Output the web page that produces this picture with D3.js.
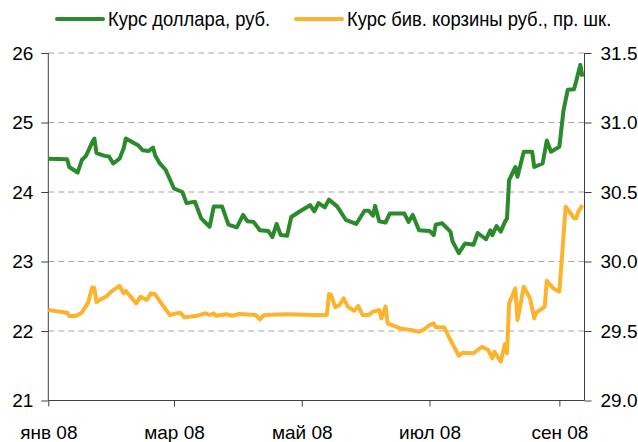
<!DOCTYPE html>
<html>
<head>
<meta charset="utf-8">
<script src="https://cdn.jsdelivr.net/npm/d3@7"></script>
<style>
  body { margin: 0; background: #fff; }
  svg text { font-family: Arial, "Liberation Sans", sans-serif; fill: #000; }
</style>
</head>
<body>
<div id="chart"></div>
<script>
// курс доллара (левая шкала)
var usdDates = ["2008-01-01","2008-01-10","2008-01-11","2008-01-15","2008-01-17","2008-01-19","2008-01-22","2008-01-23","2008-01-24","2008-01-28",
  "2008-01-30","2008-02-01","2008-02-04","2008-02-06","2008-02-07","2008-02-10","2008-02-13","2008-02-15","2008-02-18","2008-02-20",
  "2008-02-21","2008-02-23","2008-02-26","2008-03-01","2008-03-05","2008-03-07","2008-03-11","2008-03-14","2008-03-18","2008-03-20",
  "2008-03-24","2008-03-27","2008-03-31","2008-04-03","2008-04-05","2008-04-08","2008-04-11","2008-04-15","2008-04-17","2008-04-19",
  "2008-04-21","2008-04-24","2008-04-26","2008-04-30","2008-05-05","2008-05-07","2008-05-09","2008-05-12","2008-05-14","2008-05-18",
  "2008-05-22","2008-05-27","2008-05-31","2008-06-02","2008-06-04","2008-06-05","2008-06-07","2008-06-10","2008-06-12","2008-06-19",
  "2008-06-21","2008-06-23","2008-06-26","2008-07-01","2008-07-03","2008-07-04","2008-07-07","2008-07-11","2008-07-12","2008-07-15",
  "2008-07-18","2008-07-22","2008-07-24","2008-07-28","2008-07-30","2008-07-31","2008-08-02","2008-08-04","2008-08-06","2008-08-07",
  "2008-08-08","2008-08-11","2008-08-12","2008-08-15","2008-08-19","2008-08-20","2008-08-24","2008-08-26","2008-08-28","2008-09-01",
  "2008-09-03","2008-09-05","2008-09-08","2008-09-09","2008-09-11","2008-09-12"];
var usdValues = [24.48,24.47,24.36,24.28,24.46,24.52,24.72,24.77,24.56,24.52,
  24.51,24.41,24.48,24.63,24.77,24.72,24.67,24.60,24.59,24.64,
  24.53,24.42,24.32,24.05,24.00,23.84,23.86,23.62,23.50,23.79,
  23.79,23.53,23.49,23.67,23.58,23.57,23.45,23.44,23.35,23.54,
  23.38,23.37,23.64,23.72,23.81,23.72,23.84,23.78,23.89,23.79,
  23.60,23.54,23.73,23.73,23.66,23.80,23.58,23.56,23.69,23.69,
  23.57,23.67,23.45,23.44,23.38,23.53,23.55,23.43,23.29,23.12,
  23.26,23.24,23.41,23.32,23.45,23.38,23.51,23.43,23.57,23.62,
  24.17,24.36,24.22,24.58,24.58,24.36,24.41,24.74,24.58,24.65,
  25.18,25.47,25.48,25.59,25.83,25.66];

// курс бивалютной корзины (правая шкала)
var basketDates = ["2008-01-01","2008-01-10","2008-01-11","2008-01-14","2008-01-17","2008-01-20","2008-01-22","2008-01-23","2008-01-24","2008-01-26",
  "2008-01-29","2008-01-31","2008-02-04","2008-02-06","2008-02-07","2008-02-12","2008-02-14","2008-02-17","2008-02-19","2008-02-21",
  "2008-02-24","2008-02-28","2008-03-04","2008-03-06","2008-03-12","2008-03-16","2008-03-18","2008-03-20","2008-03-21","2008-03-26",
  "2008-03-29","2008-04-01","2008-04-09","2008-04-11","2008-04-13","2008-04-24","2008-05-07","2008-05-13","2008-05-14","2008-05-15",
  "2008-05-17","2008-05-19","2008-05-21","2008-05-23","2008-05-26","2008-05-28","2008-05-30","2008-06-02","2008-06-04","2008-06-07",
  "2008-06-08","2008-06-10","2008-06-11","2008-06-13","2008-06-17","2008-06-22","2008-06-26","2008-06-28","2008-07-01","2008-07-03",
  "2008-07-04","2008-07-08","2008-07-11","2008-07-15","2008-07-17","2008-07-22","2008-07-26","2008-07-29","2008-07-31","2008-08-01",
  "2008-08-04","2008-08-06","2008-08-07","2008-08-08","2008-08-11","2008-08-12","2008-08-15","2008-08-18","2008-08-20","2008-08-21",
  "2008-08-25","2008-08-26","2008-08-29","2008-09-01","2008-09-04","2008-09-08","2008-09-09","2008-09-10","2008-09-12"];
var basketValues = [29.651,29.632,29.608,29.608,29.632,29.704,29.814,29.807,29.707,29.728,
  29.752,29.783,29.824,29.771,29.788,29.699,29.747,29.723,29.771,29.764,
  29.699,29.615,29.632,29.598,29.610,29.627,29.615,29.627,29.610,29.620,
  29.610,29.622,29.615,29.584,29.615,29.620,29.615,29.615,29.766,29.759,
  29.670,29.687,29.735,29.675,29.646,29.680,29.615,29.615,29.639,29.651,
  29.591,29.675,29.555,29.543,29.519,29.507,29.495,29.507,29.543,29.555,
  29.527,29.527,29.435,29.322,29.344,29.340,29.387,29.363,29.304,29.351,
  29.279,29.406,29.340,29.699,29.807,29.579,29.819,29.735,29.591,29.632,
  29.675,29.862,29.807,29.783,30.394,30.311,30.311,30.358,30.406];

var leftTicks = [21, 22, 23, 24, 25, 26];
var rightTicks = [29.0, 29.5, 30.0, 30.5, 31.0, 31.5];
var monthTicks = ["2008-01-01","2008-03-01","2008-05-01","2008-07-01","2008-09-01"];
var monthLabels = ["янв 08","мар 08","май 08","июл 08","сен 08"];
var seriesNames = ["Курс доллара, руб.", "Курс бив. корзины руб., пр. шк."];
var seriesColors = ["#2b8a2b", "#fdb42c"];

var width = 638, height = 442,
    plotLeft = 48.3, plotRight = 584.5, plotTop = 53, plotBottom = 400.5;

var parseDate = d3.timeParse("%Y-%m-%d");

var svg = d3.select("#chart").append("svg")
    .attr("width", width)
    .attr("height", height);

var x = d3.scaleTime()
    .domain([parseDate("2008-01-01"), parseDate("2008-09-13")])
    .range([plotLeft, plotRight]);

var yLeft = d3.scaleLinear()
    .domain([21, 26])
    .range([plotBottom, plotTop]);

var yRight = d3.scaleLinear()
    .domain([29, 31.5])
    .range([plotBottom, plotTop]);

// dashed grid
svg.append("g").selectAll("line")
    .data(leftTicks.slice(1))
    .enter().append("line")
    .attr("x1", plotLeft)
    .attr("x2", plotRight)
    .attr("y1", function(d) { return yLeft(d); })
    .attr("y2", function(d) { return yLeft(d); })
    .style("stroke", "#a6a6a6")
    .style("stroke-width", "1px")
    .style("stroke-dasharray", "6,4");

var yAxisLeft = d3.axisLeft(yLeft)
    .tickValues(leftTicks)
    .tickFormat(d3.format("d"))
    .tickSize(7)
    .tickPadding(8);

var yAxisRight = d3.axisRight(yRight)
    .tickValues(rightTicks)
    .tickFormat(d3.format(".1f"))
    .tickSize(7)
    .tickPadding(9);

var xAxis = d3.axisBottom(x)
    .tickValues(monthTicks.map(parseDate))
    .tickFormat(function(d, i) { return monthLabels[i]; })
    .tickSize(6)
    .tickPadding(19);

function styleAxis(g) {
  g.select(".domain").remove();
  g.selectAll(".tick line").style("stroke", "#404040");
  g.selectAll(".tick text")
    .style("font-size", "19px")
    .style("font-family", "Arial, 'Liberation Sans', sans-serif")
    .attr("fill", "#000");
}

svg.append("g")
    .attr("transform", "translate(" + plotLeft + ",0)")
    .call(yAxisLeft)
    .call(styleAxis);

svg.append("g")
    .attr("transform", "translate(" + plotRight + ",0)")
    .call(yAxisRight)
    .call(styleAxis);

svg.append("g")
    .attr("transform", "translate(0," + plotBottom + ")")
    .call(xAxis)
    .call(styleAxis);

// axis lines
svg.append("line")
    .attr("x1", plotLeft).attr("x2", plotLeft)
    .attr("y1", plotTop).attr("y2", plotBottom)
    .style("stroke", "#404040");
svg.append("line")
    .attr("x1", plotRight).attr("x2", plotRight)
    .attr("y1", plotTop).attr("y2", plotBottom)
    .style("stroke", "#404040");
svg.append("line")
    .attr("x1", plotLeft).attr("x2", plotRight)
    .attr("y1", plotBottom).attr("y2", plotBottom)
    .style("stroke", "#404040");

var usd = usdDates.map(function(d, i) { return {date: parseDate(d), value: usdValues[i]}; });
var basket = basketDates.map(function(d, i) { return {date: parseDate(d), value: basketValues[i]}; });

var lineLeft = d3.line()
    .x(function(d) { return x(d.date); })
    .y(function(d) { return yLeft(d.value); });

var lineRight = d3.line()
    .x(function(d) { return x(d.date); })
    .y(function(d) { return yRight(d.value); });

svg.append("path")
    .datum(basket)
    .attr("d", lineRight)
    .style("fill", "none")
    .style("stroke", seriesColors[1])
    .style("stroke-width", "4px")
    .style("stroke-linejoin", "round");

svg.append("path")
    .datum(usd)
    .attr("d", lineLeft)
    .style("fill", "none")
    .style("stroke", seriesColors[0])
    .style("stroke-width", "4px")
    .style("stroke-linejoin", "round");

// legend (text a bit narrower, like the original)
var legendX = [57, 296];
var legend = svg.selectAll(".legend")
    .data(seriesNames)
    .enter().append("g")
    .attr("class", "legend")
    .attr("transform", function(d, i) { return "translate(" + legendX[i] + ",19)"; });

legend.append("line")
    .attr("x1", 0).attr("x2", 46)
    .style("stroke", function(d, i) { return seriesColors[i]; })
    .style("stroke-width", "4px")
    .style("stroke-linecap", "round");

legend.append("text")
    .attr("transform", "translate(51,2) scale(0.92,1)")
    .attr("dominant-baseline", "middle")
    .style("font-size", "20px")
    .text(function(d) { return d; });
</script>
</body>
</html>
